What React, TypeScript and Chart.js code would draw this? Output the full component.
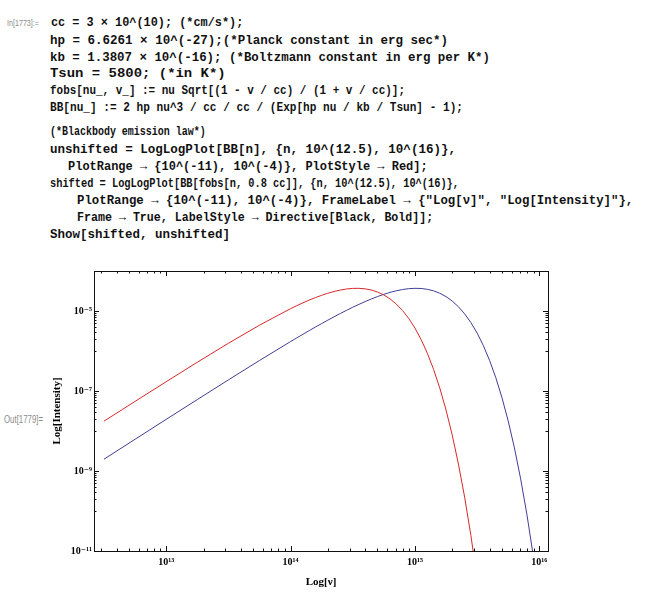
import React, { useEffect, useLayoutEffect, useRef } from "react";
import { Chart, registerables } from "chart.js";

Chart.register(...registerables);

// ---- data (log10 values) ----
const logNu = [
  12.5, 12.75, 13, 13.25, 13.5, 13.75, 14, 14.05, 14.1, 14.15, 14.2, 14.25, 14.3, 14.35, 14.4, 14.45,
  14.5, 14.55, 14.6, 14.65, 14.7, 14.75, 14.8, 14.85, 14.9, 14.95, 15, 15.05, 15.1, 15.15, 15.2, 15.25,
  15.3, 15.35, 15.4, 15.45, 15.5, 15.55, 15.6, 15.65, 15.7, 15.75, 15.8, 15.85, 15.9, 15.95, 16,
];
const logIntensityUnshifted = [
  -7.755, -7.26, -6.768, -6.282, -5.808, -5.355, -4.942, -4.867, -4.795, -4.728, -4.665, -4.608, -4.556,
  -4.512, -4.477, -4.45, -4.435, -4.433, -4.446, -4.476, -4.526, -4.599, -4.697, -4.825, -4.986, -5.184,
  -5.425, -5.714, -6.056, -6.458, -6.927, -7.472, -8.102, -8.827, -9.658, -10.61, -11.696,
  null, null, null, null, null, null, null, null, null, null,
];
const logIntensityShifted = [
  -8.706, -8.207, -7.71, -7.215, -6.723, -6.238, -5.765, -5.673, -5.582, -5.491, -5.402, -5.315, -5.229,
  -5.145, -5.063, -4.984, -4.907, -4.834, -4.764, -4.699, -4.638, -4.583, -4.535, -4.495, -4.463, -4.442,
  -4.433, -4.437, -4.458, -4.496, -4.556, -4.64, -4.752, -4.894, -5.072, -5.289, -5.551, -5.863, -6.232,
  -6.664, -7.167, -7.749, -8.421, -9.193, -10.078, -11.089, -12.242,
];
const seriesNames = ["shifted", "unshifted"];
const xTickExps = [13, 14, 15, 16];
const xTickLabels = ["10¹³", "10¹⁴", "10¹⁵", "10¹⁶"];
const yTickExps = [-11, -9, -7, -5];
const yTickLabels = ["10⁻¹¹", "10⁻⁹", "10⁻⁷", "10⁻⁵"];
const xRangeExp = [12.42, 16.07];
const yRangeExp = [-11, -4];
const xAxisTitle = "Log[ν]";
const yAxisTitle = "Log[Intensity]";

// ---- notebook input text ----
const codeLines = [
  "cc = 3 × 10^(10); (*cm/s*);",
  "hp = 6.6261 × 10^(-27);(*Planck constant in erg sec*)",
  "kb = 1.3807 × 10^(-16); (*Boltzmann constant in erg per K*)",
  "Tsun = 5800; (*in K*)",
  "fobs[nu_, v_] := nu Sqrt[(1 - v / cc) / (1 + v / cc)];",
  "BB[nu_] := 2 hp nu^3 / cc / cc / (Exp[hp nu / kb / Tsun] - 1);",
  "(*Blackbody emission law*)",
  "unshifted = LogLogPlot[BB[n], {n, 10^(12.5), 10^(16)},",
  "PlotRange → {10^(-11), 10^(-4)}, PlotStyle → Red];",
  "shifted = LogLogPlot[BB[fobs[n, 0.8 cc]], {n, 10^(12.5), 10^(16)},",
  "PlotRange → {10^(-11), 10^(-4)}, FrameLabel → {\"Log[ν]\", \"Log[Intensity]\"},",
  "Frame → True, LabelStyle → Directive[Black, Bold]];",
  "Show[shifted, unshifted]",
];
const codeLayout = [
  [50.7, 23, 243],
  [50, 40.5, 448],
  [50, 57.5, 490],
  [50, 74, 225.7],
  [50, 91, 405],
  [50, 107.5, 463],
  [50, 131.5, 205.7],
  [50, 150, 456],
  [68.3, 166.5, 428],
  [50, 184, 459],
  [76.7, 200.5, 633],
  [76.7, 218, 433],
  [50, 235, 230],
];

function FitText(props: {
  text: string;
  left: number;
  right: number;
  cy: number;
  size: number;
  style?: React.CSSProperties;
}) {
  const { text, left, right, cy, size, style } = props;
  const ref = useRef<HTMLSpanElement>(null);
  useLayoutEffect(() => {
    const el = ref.current;
    if (!el) return;
    el.style.transform = "none";
    const w = el.getBoundingClientRect().width;
    if (w > 0) el.style.transform = `scaleX(${(right - left) / w})`;
  }, [text, left, right]);
  return (
    <span
      ref={ref}
      style={{
        position: "absolute",
        left,
        top: cy - size * 0.6,
        whiteSpace: "pre",
        fontSize: size,
        lineHeight: `${size * 1.2}px`,
        transformOrigin: "0 0",
        ...style,
      }}
    >
      {text}
    </span>
  );
}

const frameTicks = {
  id: "frameTicks",
  afterDatasetsDraw(chart: any) {
    const { ctx, chartArea } = chart;
    const { left, right, top, bottom } = chartArea;
    const x = chart.scales.x;
    const y = chart.scales.y;
    ctx.save();
    ctx.strokeStyle = "#111";
    ctx.lineWidth = 1;
    ctx.beginPath();
    for (let d = 12; d <= 16; d++) {
      for (let k = 1; k <= 9; k++) {
        const v = k * Math.pow(10, d);
        if (v < x.min || v > x.max) continue;
        const px = Math.round(x.getPixelForValue(v)) + 0.5;
        const len = k === 1 ? 5 : 2.5;
        ctx.moveTo(px, bottom);
        ctx.lineTo(px, bottom - len);
        ctx.moveTo(px, top);
        ctx.lineTo(px, top + len);
      }
    }
    for (const m of yTickExps) {
      for (let k = 0; k <= 9; k++) {
        const v = k === 0 ? Math.pow(10, m) : k * Math.pow(10, m - 1);
        if (v < y.min || v > y.max) continue;
        const py = Math.round(y.getPixelForValue(v)) + 0.5;
        const len = k === 0 ? 5 : 2.5;
        ctx.moveTo(left, py);
        ctx.lineTo(left + len, py);
        ctx.moveTo(right, py);
        ctx.lineTo(right - len, py);
      }
    }
    ctx.stroke();
    ctx.strokeRect(Math.round(left) + 0.5, Math.round(top) + 0.5, Math.round(right - left), Math.round(bottom - top));
    ctx.restore();
  },
};

const serif = "'Liberation Serif', 'Times New Roman', 'DejaVu Serif', serif";

function PlotCanvas() {
  const canvasRef = useRef<HTMLCanvasElement>(null);
  useEffect(() => {
    const canvas = canvasRef.current;
    if (!canvas) return;
    const toPoints = (arr: (number | null)[]) =>
      logNu.map((lx, i) => ({ x: Math.pow(10, lx), y: arr[i] === null ? null : Math.pow(10, arr[i] as number) }));
    const chart = new Chart(canvas, {
      type: "line",
      data: {
        datasets: [
          {
            label: seriesNames[0],
            data: toPoints(logIntensityShifted) as any,
            borderColor: "rgb(62,62,150)",
            borderWidth: 1,
            pointRadius: 0,
            tension: 0,
            spanGaps: false,
            order: 2,
          },
          {
            label: seriesNames[1],
            data: toPoints(logIntensityUnshifted) as any,
            borderColor: "rgb(215,40,40)",
            borderWidth: 1,
            pointRadius: 0,
            tension: 0,
            spanGaps: false,
            order: 1,
          },
        ],
      },
      options: {
        responsive: false,
        animation: false,
        devicePixelRatio: 1,
        parsing: false as any,
        layout: { padding: { top: 16, right: 107, left: 0, bottom: 0 } },
        plugins: { legend: { display: false }, tooltip: { enabled: false } },
        scales: {
          x: {
            type: "logarithmic",
            min: Math.pow(10, xRangeExp[0]),
            max: Math.pow(10, xRangeExp[1]),
            afterBuildTicks: (s: any) => {
              s.ticks = xTickExps.map((e) => ({ value: Math.pow(10, e) }));
            },
            afterFit: (s: any) => {
              s.height = 49;
            },
            grid: { display: false, drawTicks: false },
            border: { display: false },
            ticks: {
              autoSkip: false,
              maxRotation: 0,
              padding: 5,
              color: "#000",
              font: { family: serif, size: 10, weight: "bold" },
              callback: (v: any) => {
                const i = xTickExps.indexOf(Math.round(Math.log10(Number(v))));
                return i >= 0 ? xTickLabels[i] : "";
              },
            },
            title: {
              display: true,
              text: xAxisTitle,
              color: "#000",
              font: { family: serif, size: 11, weight: "bold" },
              padding: { top: 0, bottom: 11 },
            },
          },
          y: {
            type: "logarithmic",
            min: Math.pow(10, yRangeExp[0]),
            max: Math.pow(10, yRangeExp[1]),
            afterBuildTicks: (s: any) => {
              s.ticks = yTickExps.map((e) => ({ value: Math.pow(10, e) }));
            },
            afterFit: (s: any) => {
              s.width = 94;
            },
            grid: { display: false, drawTicks: false },
            border: { display: false },
            ticks: {
              autoSkip: false,
              padding: 2,
              color: "#000",
              font: { family: serif, size: 10, weight: "bold" },
              callback: (v: any) => {
                const i = yTickExps.indexOf(Math.round(Math.log10(Number(v))));
                return i >= 0 ? yTickLabels[i] : "";
              },
            },
            title: {
              display: true,
              text: yAxisTitle,
              color: "#000",
              font: { family: serif, size: 11, weight: "bold" },
              padding: { top: 51, bottom: 0 },
            },
          },
        },
      } as any,
      plugins: [frameTicks],
    });
    return () => chart.destroy();
  }, []);
  return (
    <canvas
      ref={canvasRef}
      width={655}
      height={345}
      style={{ position: "absolute", left: 0, top: 255, width: 655, height: 345 }}
    />
  );
}

export default function App() {
  return (
    <div
      style={{
        position: "absolute",
        left: 0,
        top: 0,
        width: 655,
        height: 600,
        background: "#fff",
        overflow: "hidden",
      }}
    >
      <FitText
        text="In[1773]:="
        left={7}
        right={39}
        cy={23}
        size={9}
        style={{ fontFamily: "'Liberation Sans', Arial, sans-serif", color: "#8a8a8a" }}
      />
      {codeLines.map((t, i) => (
        <FitText
          key={i}
          text={t}
          left={codeLayout[i][0]}
          right={codeLayout[i][2]}
          cy={codeLayout[i][1]}
          size={13}
          style={{ fontFamily: "'Liberation Mono', 'Courier New', monospace", fontWeight: "bold", color: "#111" }}
        />
      ))}
      <FitText
        text="Out[1779]="
        left={4}
        right={43}
        cy={420}
        size={10}
        style={{ fontFamily: "'Liberation Sans', Arial, sans-serif", color: "#8a8a8a" }}
      />
      <PlotCanvas />
    </div>
  );
}
